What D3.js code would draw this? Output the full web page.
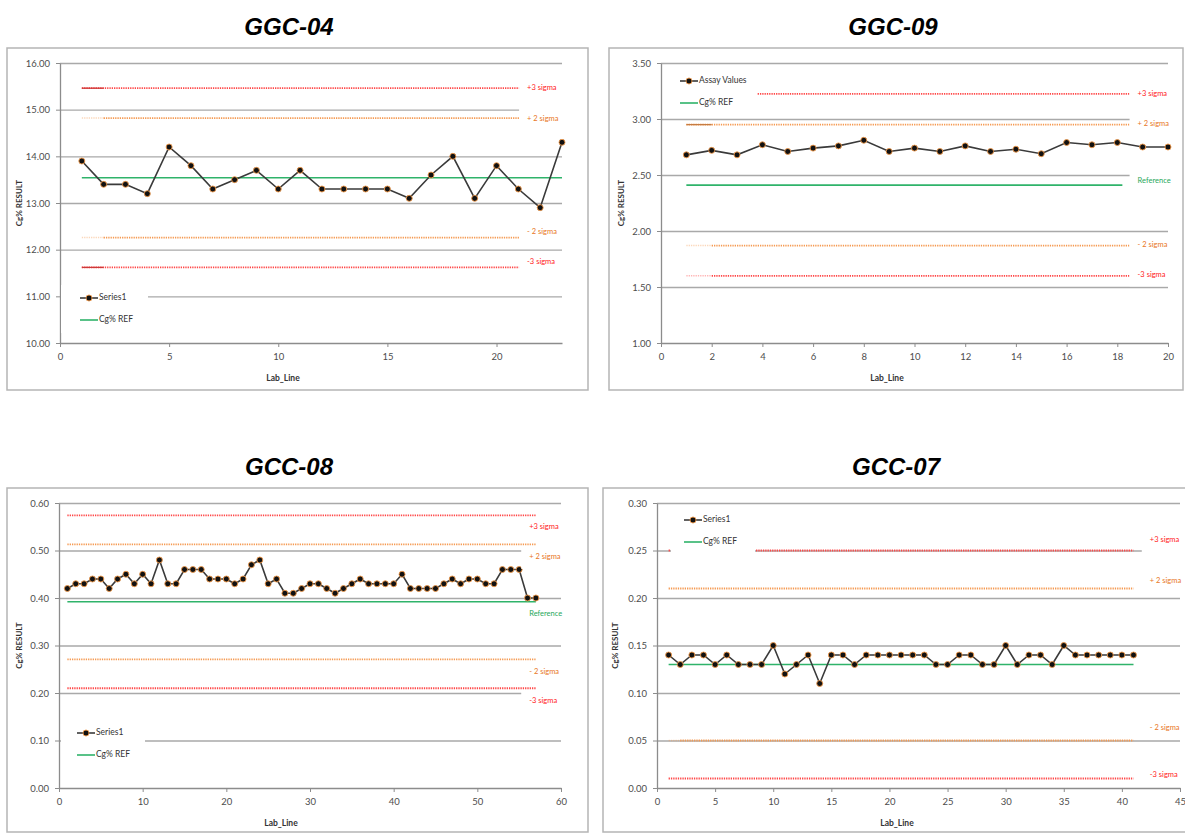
<!DOCTYPE html>
<html>
<head>
<meta charset="utf-8">
<script src="https://cdn.jsdelivr.net/npm/d3@7"></script>
<style>
  body { margin: 0; background: #fff; }
  text { font-family: Lato, "Open Sans", sans-serif; }
</style>
</head>
<body>
<svg id="chart" width="1185" height="834"></svg>
<script>
// ---- data ----
// limits order: +3 sigma, +2 sigma, reference, -2 sigma, -3 sigma
const limitNames = ['+3 sigma', '+ 2 sigma', 'Reference', '- 2 sigma', '-3 sigma'];

const ggc04Values = [13.9, 13.4, 13.4, 13.2, 14.2, 13.8, 13.3, 13.5, 13.7, 13.3, 13.7, 13.3,
  13.3, 13.3, 13.3, 13.1, 13.6, 14.0, 13.1, 13.8, 13.3, 12.9, 14.3];
const ggc04Limits = [15.46, 14.82, 13.54, 12.26, 11.62];
const ggc04YTicks = [10, 11, 12, 13, 14, 15, 16];
const ggc04XTicks = [0, 5, 10, 15, 20];

const ggc09Values = [2.68, 2.72, 2.68, 2.77, 2.71, 2.74, 2.76, 2.81, 2.71, 2.74, 2.71, 2.76,
  2.71, 2.73, 2.69, 2.79, 2.77, 2.79, 2.75, 2.75];
const ggc09Limits = [3.225, 2.95, 2.41, 1.87, 1.60];
const ggc09YTicks = [1.0, 1.5, 2.0, 2.5, 3.0, 3.5];
const ggc09XTicks = [0, 2, 4, 6, 8, 10, 12, 14, 16, 18, 20];

const gcc08Values = [0.42, 0.43, 0.43, 0.44, 0.44, 0.42, 0.44, 0.45, 0.43, 0.45,
  0.43, 0.48, 0.43, 0.43, 0.46, 0.46, 0.46, 0.44, 0.44, 0.44,
  0.43, 0.44, 0.47, 0.48, 0.43, 0.44, 0.41, 0.41, 0.42, 0.43,
  0.43, 0.42, 0.41, 0.42, 0.43, 0.44, 0.43, 0.43, 0.43, 0.43,
  0.45, 0.42, 0.42, 0.42, 0.42, 0.43, 0.44, 0.43, 0.44, 0.44,
  0.43, 0.43, 0.46, 0.46, 0.46, 0.40, 0.40];
const gcc08Limits = [0.574, 0.513, 0.392, 0.271, 0.21];
const gcc08YTicks = [0, 0.1, 0.2, 0.3, 0.4, 0.5, 0.6];
const gcc08XTicks = [0, 10, 20, 30, 40, 50, 60];

const gcc07Values = [0.14, 0.13, 0.14, 0.14, 0.13, 0.14, 0.13, 0.13, 0.13, 0.15,
  0.12, 0.13, 0.14, 0.11, 0.14, 0.14, 0.13, 0.14, 0.14, 0.14,
  0.14, 0.14, 0.14, 0.13, 0.13, 0.14, 0.14, 0.13, 0.13, 0.15,
  0.13, 0.14, 0.14, 0.13, 0.15, 0.14, 0.14, 0.14, 0.14, 0.14, 0.14];
const gcc07Limits = [0.25, 0.21, 0.13, 0.05, 0.01];
const gcc07YTicks = [0, 0.05, 0.1, 0.15, 0.2, 0.25, 0.3];
const gcc07XTicks = [0, 5, 10, 15, 20, 25, 30, 35, 40, 45];

// ---- layout of each panel ----
const panels = [
  { title: 'GGC-04', values: ggc04Values, limits: ggc04Limits, yTicks: ggc04YTicks, xTicks: ggc04XTicks,
    xMax: 23, box: [7, 48, 581, 342], plot: [60, 63, 562, 343], titleX: 289, yTitleX: 20, xTitleX: 283,
    limitEnd: 21.1, refEnd: 23, labelX: 21.4, labelDy: [0, 1, 0, -5, -5], showRef: false,
    firstSeg: ['dark', 'light', null, 'light', 'dark'],
    legend: { x: 80, y: 298, box: [61, 285, 87, 48], names: ['Series1', 'Cg% REF'] } },
  { title: 'GGC-09', values: ggc09Values, limits: ggc09Limits, yTicks: ggc09YTicks, xTicks: ggc09XTicks,
    xMax: 20, box: [609, 48, 574, 342], plot: [661, 63, 1168, 343], titleX: 893, yTitleX: 622, xTitleX: 887,
    limitEnd: 18.5, refEnd: 18.2, labelX: 18.8, labelDy: [0, -1, -4, 0, -1], showRef: true,
    firstSeg: [null, 'dark', null, 'light', 'light'],
    legend: { x: 680, y: 81, box: [671, 68, 86, 42], names: ['Assay Values', 'Cg% REF'] } },
  { title: 'GCC-08', values: gcc08Values, limits: gcc08Limits, yTicks: gcc08YTicks, xTicks: gcc08XTicks,
    xMax: 60, box: [7, 488, 581, 344], plot: [59, 503, 561, 788], titleX: 289, yTitleX: 20, xTitleX: 281,
    limitEnd: 57, refEnd: 57, labelX: 56.2, labelDy: [12, 13, 12, 13, 13], showRef: true,
    firstSeg: [null, null, null, null, null],
    legend: { x: 77, y: 733, box: [61, 720, 84, 44], names: ['Series1', 'Cg% REF'] } },
  { title: 'GCC-07', values: gcc07Values, limits: gcc07Limits, yTicks: gcc07YTicks, xTicks: gcc07XTicks,
    xMax: 45, box: [603, 488, 590, 344], plot: [657, 503, 1180, 788], titleX: 896, yTitleX: 616, xTitleX: 897,
    limitEnd: 41, refEnd: 41, labelX: 42.4, labelDy: [-10, -7, 0, -12.5, -3], showRef: false,
    firstSeg: [null, null, null, 'light', null],
    legend: { x: 684, y: 520, box: [671, 505, 84, 51], names: ['Series1', 'Cg% REF'] } }
];

const lineColors = ['#ff4747', '#f59a52', '#2fb36a', '#f59a52', '#ff4747'];
const textColors = ['#ff1a1a', '#e8761c', '#1fa85a', '#e8761c', '#ff1a1a'];

const svg = d3.select('#chart');
panels.forEach(drawPanel);

function drawPanel(p) {
  const g = svg.append('g');
  const [bx, by, bw, bh] = p.box;
  const [pl, pt, pr, pb] = p.plot;
  const x = d3.scaleLinear().domain([0, p.xMax]).range([pl, pr]);
  const y = d3.scaleLinear().domain(d3.extent(p.yTicks)).range([pb, pt]);
  const line = d3.line().x(d => x(d[0])).y(d => y(d[1]));

  g.append('text')
    .attr('x', p.titleX).attr('y', by - 13)
    .attr('text-anchor', 'middle')
    .style('font-family', '"Liberation Sans", Arial, sans-serif')
    .style('font-weight', 'bold').style('font-style', 'italic')
    .style('font-size', '24px')
    .text(p.title);

  g.append('rect')
    .attr('x', bx).attr('y', by).attr('width', bw).attr('height', bh)
    .attr('fill', '#fff').attr('stroke', '#b5b5b5').attr('stroke-width', 1.5);

  // gridlines
  g.append('g')
    .attr('transform', `translate(${pl},0)`)
    .call(d3.axisLeft(y).tickValues(p.yTicks.slice(1)).tickSize(-(pr - pl)).tickFormat(''))
    .call(a => a.select('.domain').remove())
    .selectAll('line').attr('stroke', '#a9a9a9').attr('stroke-width', 1.4);

  // axes
  const yAxis = g.append('g')
    .attr('transform', `translate(${pl},0)`)
    .call(d3.axisLeft(y).tickValues(p.yTicks).tickFormat(d3.format('.2f')).tickSize(4).tickSizeOuter(0).tickPadding(6));
  const xAxis = g.append('g')
    .attr('transform', `translate(0,${pb})`)
    .call(d3.axisBottom(x).tickValues(p.xTicks).tickFormat(d3.format('d')).tickSize(4).tickSizeOuter(0).tickPadding(6));
  [yAxis, xAxis].forEach(a => {
    a.select('.domain').attr('stroke', '#8c8c8c').attr('stroke-width', 1.3);
    a.selectAll('line').attr('stroke', '#8c8c8c');
    a.selectAll('text').attr('fill', '#4d4d4d').style('font-size', '9.5px').style('font-family', 'Lato, sans-serif');
  });

  g.append('text')
    .attr('transform', `translate(${p.yTitleX},${(pt + pb) / 2}) rotate(-90)`)
    .attr('text-anchor', 'middle').attr('dominant-baseline', 'middle')
    .style('font-size', '8px').style('font-weight', 'bold').attr('fill', '#333')
    .text('Cg% RESULT');
  g.append('text')
    .attr('x', p.xTitleX).attr('y', pb + 38)
    .attr('text-anchor', 'middle')
    .style('font-size', '8.5px').style('font-weight', 'bold').attr('fill', '#333')
    .text('Lab_Line');

  // control limits
  p.limits.forEach((v, i) => {
    if (i === 2) {
      g.append('path').attr('d', line([[1, v], [p.refEnd, v]]))
        .attr('fill', 'none').attr('stroke', lineColors[i]).attr('stroke-width', 1.6);
      return;
    }
    const start = p.firstSeg[i] === 'light' ? 2 : 1;
    g.append('path').attr('d', line([[start, v], [p.limitEnd, v]]))
      .attr('fill', 'none').attr('stroke', lineColors[i]).attr('stroke-width', 1.8)
      .attr('stroke-dasharray', '1.3 1');
    if (p.firstSeg[i] === 'light') {
      g.append('path').attr('d', line([[1, v], [2, v]]))
        .attr('fill', 'none').attr('stroke', lineColors[i]).attr('stroke-width', 1.5)
        .attr('stroke-dasharray', '1.3 1').attr('opacity', 0.4);
    } else if (p.firstSeg[i] === 'dark') {
      g.append('path').attr('d', line([[1, v], [2, v]]))
        .attr('fill', 'none').attr('stroke', d3.color(lineColors[i]).darker(0.6)).attr('stroke-width', 1.3);
    }
  });

  // assay values
  const pts = p.values.map((v, i) => [i + 1, v]);
  g.append('path').attr('d', line(pts))
    .attr('fill', 'none').attr('stroke', '#3a3a3a').attr('stroke-width', 1.6);
  g.append('g').selectAll('circle').data(pts).join('circle')
    .attr('cx', d => x(d[0])).attr('cy', d => y(d[1])).attr('r', 3)
    .attr('fill', '#111').attr('stroke', '#f29a4a').attr('stroke-width', 0.9);

  // legend
  const L = p.legend;
  g.append('rect').attr('x', L.box[0]).attr('y', L.box[1]).attr('width', L.box[2]).attr('height', L.box[3]).attr('fill', '#fff');
  const lg = g.append('g');
  lg.append('line').attr('x1', L.x).attr('x2', L.x + 18).attr('y1', L.y).attr('y2', L.y)
    .attr('stroke', '#3a3a3a').attr('stroke-width', 1.6);
  lg.append('circle').attr('cx', L.x + 9).attr('cy', L.y).attr('r', 3)
    .attr('fill', '#111').attr('stroke', '#f29a4a').attr('stroke-width', 0.9);
  lg.append('line').attr('x1', L.x).attr('x2', L.x + 18).attr('y1', L.y + 22).attr('y2', L.y + 22)
    .attr('stroke', lineColors[2]).attr('stroke-width', 1.6);
  lg.selectAll('text').data(L.names).join('text')
    .attr('x', L.x + 19).attr('y', (d, i) => L.y + i * 22)
    .attr('dominant-baseline', 'middle')
    .style('font-size', '8.5px').attr('fill', '#333')
    .text(d => d);

  // limit labels
  p.limits.forEach((v, i) => {
    if (i === 2 && !p.showRef) return;
    const lx = x(p.labelX), ly = y(v) + p.labelDy[i];
    g.append('rect').attr('x', lx - 8).attr('y', ly - 10.5).attr('width', 50).attr('height', 22).attr('fill', '#fff');
    g.append('text').attr('x', lx).attr('y', ly)
      .attr('dominant-baseline', 'middle')
      .style('font-size', '7.5px').attr('fill', textColors[i])
      .text(limitNames[i]);
  });
}
</script>
</body>
</html>
